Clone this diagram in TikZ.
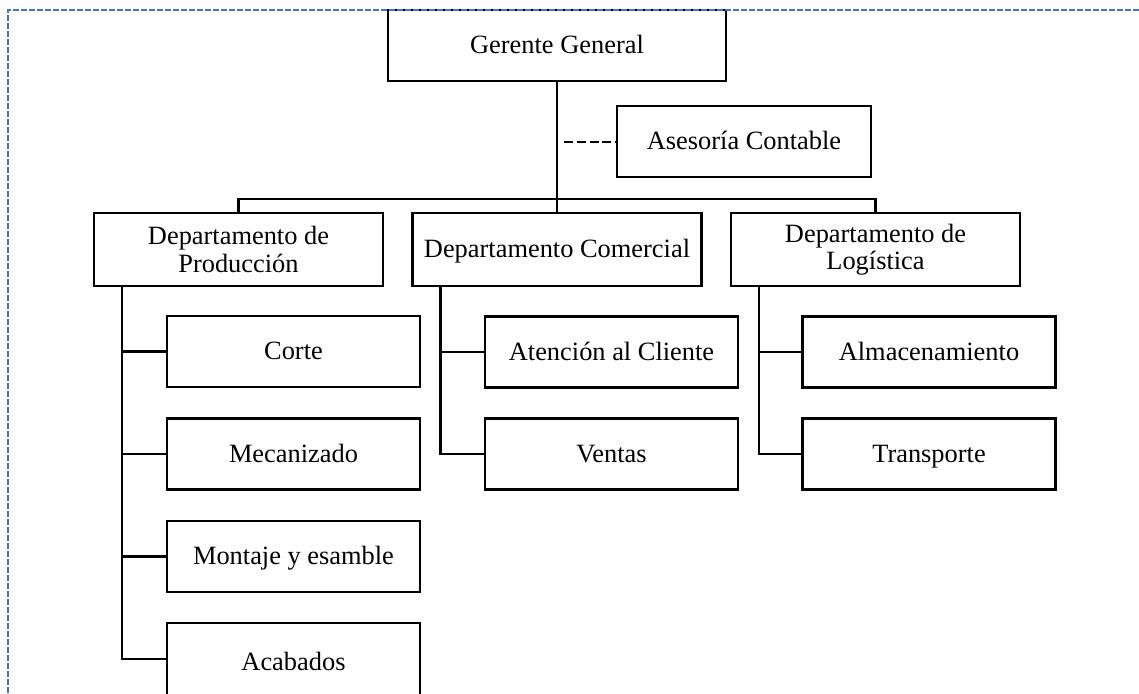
\documentclass[tikz,border=0pt]{standalone}
\usepackage{fontspec}
\setmainfont{Liberation Serif}
\usetikzlibrary{calc}
\definecolor{frameblue}{RGB}{68,114,196}
\begin{document}
\begin{tikzpicture}[x=0.75pt,y=-0.75pt,
  box/.style={draw=black,line width=1.7pt,fill=white,inner sep=2pt,align=center,
    font=\fontsize{19.8}{20.5}\selectfont},
  oneline/.style={text height=16.5pt,text depth=4pt},
  topbox/.style={box,oneline,minimum width=338*0.75pt,minimum height=71*0.75pt},
  advbox/.style={box,oneline,minimum width=254*0.75pt,minimum height=71*0.75pt},
  deptbox/.style={box,minimum width=289*0.75pt,minimum height=73*0.75pt},
  unitbox/.style={box,oneline,minimum width=253*0.75pt,minimum height=71*0.75pt},
  link/.style={draw=black,line width=1.7pt},
  advlink/.style={draw=black,line width=1.5pt,dash pattern=on 6.8pt off 2.8pt},
  pageframe/.style={draw=frameblue,line width=0.9pt,dash pattern=on 4.5pt off 1.5pt}]
\useasboundingbox (0,0) rectangle (1139,693);
\clip (0,0) rectangle (1139,693);

% management level
\node[topbox] (gg) at (557,45.5) {Gerente General};
\node[advbox] (ac) at (744,141.5) {Asesoría Contable};

% departments
\node[deptbox] (prod) at (238.5,249.5) {Departamento de\\Producción};
\node[deptbox,oneline] (com) at (557,249.5) {Departamento Comercial};
\node[deptbox] (log)  at (875.5,249.5) {Departamento de\\Logística};

% production units (the last one runs past the bottom edge)
\node[unitbox] (corte) at (293.5,351.5) {Corte};
\node[unitbox] (mec)   at (293.5,454)   {Mecanizado};
\node[unitbox] (mont)  at (293.5,556.5) {Montaje y esamble};
\node[unitbox,minimum height=78*0.75pt] (acab) at (293.5,662) {Acabados};

% commercial units
\node[unitbox] (aten) at (611.5,352) {Atención al Cliente};
\node[unitbox] (vent) at (611.5,454) {Ventas};

% logistics units
\node[unitbox] (alm)  at (929,352) {Almacenamiento};
\node[unitbox] (trans) at (929,454) {Transporte};

% trunk and department bar
\coordinate (bar) at (0,199);
\draw[link] (gg.south) -- (com.north);
\draw[link] (prod.north) -- (prod.north |- bar) -| (log.north);

% advisory (staff) link
\coordinate (advstart) at ($(gg.south)+(7,0)$);
\draw[advlink] (advstart |- ac.west) -- (ac.west);

% department to unit links
\coordinate (pl) at ($(prod.south west)+(29,0)$);
\coordinate (cl) at ($(com.south west)+(29,0)$);
\coordinate (ll) at ($(log.south west)+(29,0)$);
\coordinate (acabjoin) at ($(acab.west)+(0,-3)$);
\foreach \u in {corte,mec,mont} \draw[link] (pl) |- (\u.west);
\draw[link] (pl) |- (acabjoin);
\foreach \u in {aten,vent} \draw[link] (cl) |- (\u.west);
\foreach \u in {alm,trans} \draw[link] (ll) |- (\u.west);

% page frame
\coordinate (fc) at (8,10);
\draw[pageframe] (fc |- 0,693) -- (fc) -- (1139,10);
\end{tikzpicture}
\end{document}
